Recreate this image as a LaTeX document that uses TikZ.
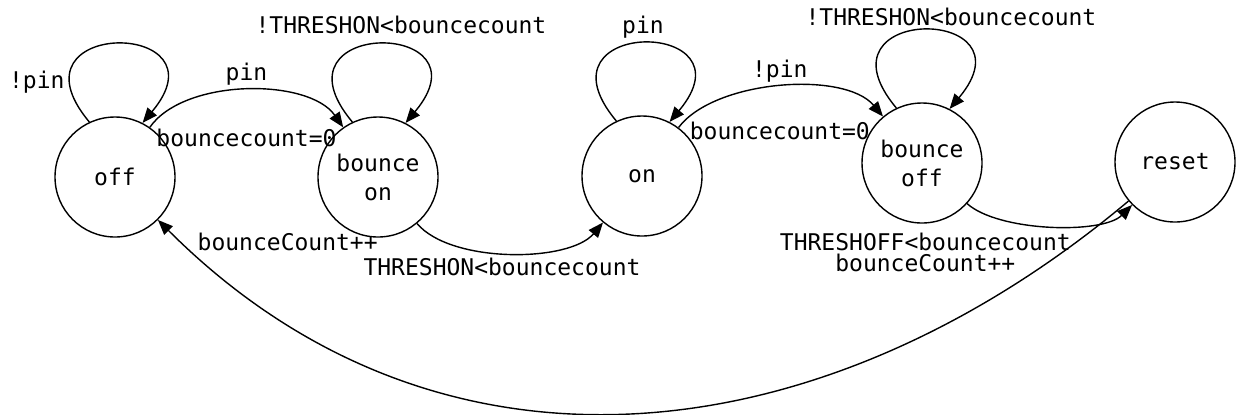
\documentclass[tikz,border=0pt]{standalone}
\usepackage{fontspec}
\newfontfamily\statefont{DejaVu Sans Mono}
\usetikzlibrary{arrows.meta}

\begin{document}
\begin{tikzpicture}[
    x=0.5pt, y=0.5pt,
    state/.style={circle, draw, line width=0.7pt, minimum size=60pt, inner sep=0pt,
                  font=\statefont\fontsize{11.5}{14.5}\selectfont, align=center},
    arr/.style={-{Triangle[length=7.5pt, width=6pt]}, line width=0.7pt},
    lbl/.style={font=\statefont\fontsize{11.5}{10.5}\selectfont, align=center, inner sep=2pt},
    selfloop/.style={out=130, in=50, distance=68pt}
]
\useasboundingbox (0,0) rectangle (1236,-414);

% states
\node[state] (off)  at (115,-177)  {off};
\node[state] (bon)  at (378,-177)  {bounce\\on};
\node[state] (on)   at (642,-176)  {on};
\node[state] (boff) at (922,-163)  {bounce\\off};
\node[state] (rst)  at (1175,-162) {reset};

% self loops
\draw[arr] (off.115)  to[selfloop] node[lbl, left, pos=0.15] {!pin} (off.63);
\draw[arr] (bon.115)  to[selfloop] node[lbl, above, xshift=11pt, yshift=3pt] {!THRESHON<bouncecount} (bon.63);
\draw[arr] (on.115)   to[selfloop] node[lbl, above] {pin} (on.63);
\draw[arr] (boff.115) to[selfloop] node[lbl, above, xshift=14pt] {!THRESHON<bouncecount} (boff.63);

% transitions
\draw[arr] (off) to[out=55, in=125, looseness=0.8]
    node[lbl, above] {pin} node[lbl, below=17pt] {bouncecount=0} (bon);
\draw[arr] (bon) to[out=-50, in=-130, looseness=0.72]
    node[lbl, below, xshift=-4pt] {THRESHON<bouncecount} (on);
\draw[arr] (on) to[out=53, in=130, looseness=0.75]
    node[lbl, above] {!pin} node[lbl, below=15.5pt] {bouncecount=0} (boff);
\draw[arr] (boff) to[out=-42, in=-135, looseness=0.65]
    node[lbl, pos=0.05, below, xshift=-23.5pt, yshift=-10.5pt] {THRESHOFF<bouncecount\\bounceCount++} (rst);
\draw[arr] (rst) to[out=-140, in=-45, looseness=1.05]
    node[lbl, pos=0.95, above right, xshift=-4pt, yshift=2pt] {bounceCount++} (off);
\end{tikzpicture}
\end{document}
